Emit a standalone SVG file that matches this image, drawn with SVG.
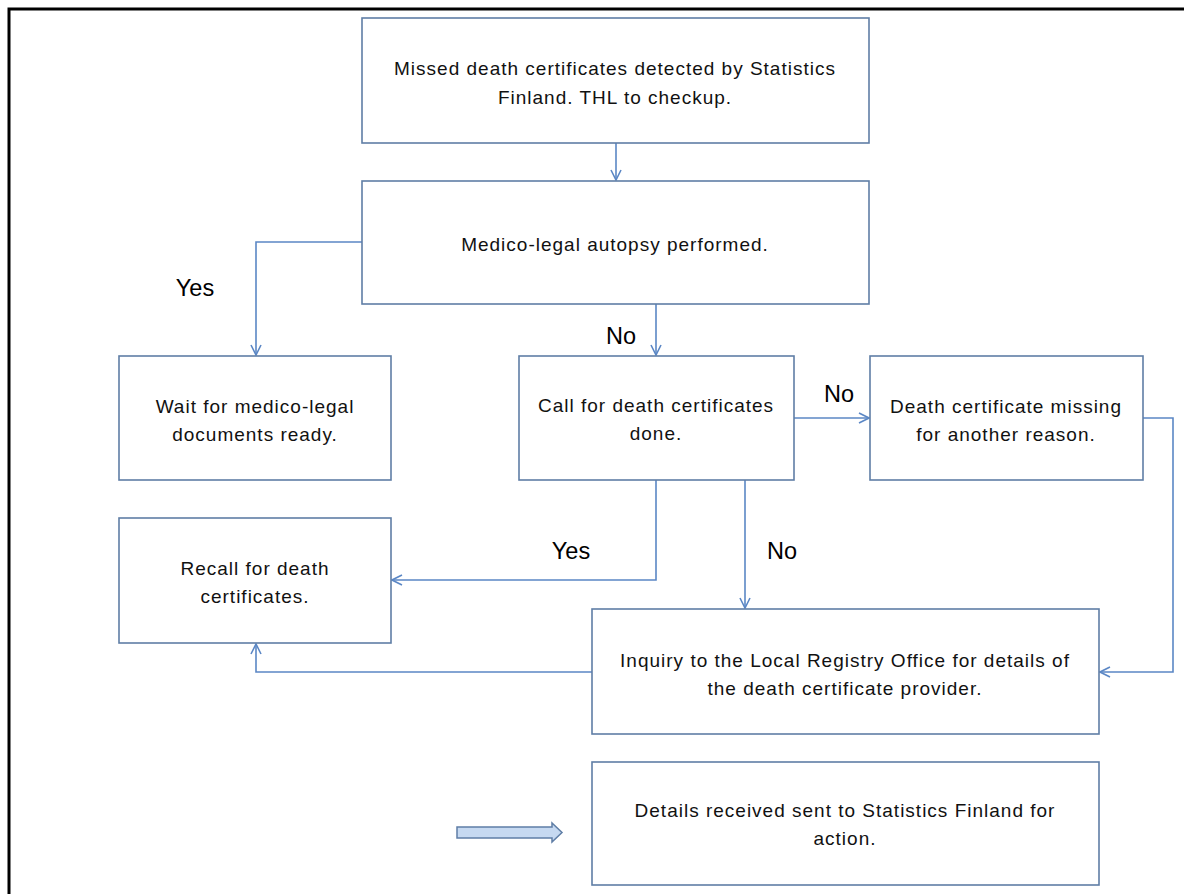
<svg xmlns="http://www.w3.org/2000/svg" width="1184" height="894" viewBox="0 0 1184 894">
  <style>
    .box { fill: #ffffff; stroke: #5f7ea6; stroke-width: 1.6; }
    .txt { font-family: "Liberation Sans", Arial, sans-serif; font-size: 19px; letter-spacing: 1px; fill: #111111; text-anchor: middle; }
    .lbl { font-family: "Liberation Sans", Arial, sans-serif; font-size: 23.5px; fill: #000000; text-anchor: middle; }
    .conn { fill: none; stroke: #5b87c5; stroke-width: 1.6; }
  </style>
  <defs>
    <marker id="arr" viewBox="0 0 12 12" refX="11" refY="6" markerWidth="12" markerHeight="12" markerUnits="userSpaceOnUse" orient="auto">
      <path d="M1,1 L11,6 L1,11" fill="none" stroke="#5b87c5" stroke-width="1.6"/>
    </marker>
  </defs>

  <rect x="0" y="0" width="1184" height="894" fill="#ffffff"/>
  <!-- page frame -->
  <path d="M9,894 V9 H1184" fill="none" stroke="#000000" stroke-width="3"/>

  <g id="connectors">
    <path class="conn" d="M616,143 V180" marker-end="url(#arr)"/>
    <path class="conn" d="M362,242 H256 V355" marker-end="url(#arr)"/>
    <path class="conn" d="M656,304 V355" marker-end="url(#arr)"/>
    <path class="conn" d="M794,418 H869" marker-end="url(#arr)"/>
    <path class="conn" d="M656,480 V580 H392" marker-end="url(#arr)"/>
    <path class="conn" d="M745,480 V608" marker-end="url(#arr)"/>
    <path class="conn" d="M1143,418 H1173 V672 H1100" marker-end="url(#arr)"/>
    <path class="conn" d="M592,672 H256 V644" marker-end="url(#arr)"/>
  </g>

  <g id="labels">
    <text class="lbl" x="195" y="296">Yes</text>
    <text class="lbl" x="621" y="344">No</text>
    <text class="lbl" x="839" y="402">No</text>
    <text class="lbl" x="571" y="559">Yes</text>
    <text class="lbl" x="782" y="559">No</text>
  </g>

  <g id="n-detected">
    <rect class="box" x="362" y="18" width="507" height="125"/>
    <text class="txt" x="615" y="75">Missed death certificates detected by Statistics</text>
    <text class="txt" x="615" y="104">Finland.  THL to checkup.</text>
  </g>

  <g id="n-autopsy">
    <rect class="box" x="362" y="181" width="507" height="123"/>
    <text class="txt" x="615" y="251">Medico-legal autopsy performed.</text>
  </g>

  <g id="n-wait">
    <rect class="box" x="119" y="356" width="272" height="124"/>
    <text class="txt" x="255" y="413">Wait for medico-legal</text>
    <text class="txt" x="255" y="441">documents ready.</text>
  </g>

  <g id="n-call">
    <rect class="box" x="519" y="356" width="275" height="124"/>
    <text class="txt" x="656" y="412">Call for death certificates</text>
    <text class="txt" x="656" y="440">done.</text>
  </g>

  <g id="n-missing">
    <rect class="box" x="870" y="356" width="273" height="124"/>
    <text class="txt" x="1006" y="413">Death certificate missing</text>
    <text class="txt" x="1006" y="441">for another reason.</text>
  </g>

  <g id="n-recall">
    <rect class="box" x="119" y="518" width="272" height="125"/>
    <text class="txt" x="255" y="575">Recall for death</text>
    <text class="txt" x="255" y="603">certificates.</text>
  </g>

  <g id="n-inquiry">
    <rect class="box" x="592" y="609" width="507" height="125"/>
    <text class="txt" x="845" y="667">Inquiry to the Local Registry Office for details of</text>
    <text class="txt" x="845" y="695">the death certificate provider.</text>
  </g>

  <g id="n-details">
    <rect class="box" x="592" y="762" width="507" height="123"/>
    <text class="txt" x="845" y="817">Details received sent to Statistics Finland for</text>
    <text class="txt" x="845" y="845">action.</text>
  </g>

  <g id="block-arrow">
    <path d="M457,827 H552 V823 L562,832.5 L552,842 V838 H457 Z" fill="#c6d9f1" stroke="#5f7ea6" stroke-width="1.5"/>
  </g>
</svg>
